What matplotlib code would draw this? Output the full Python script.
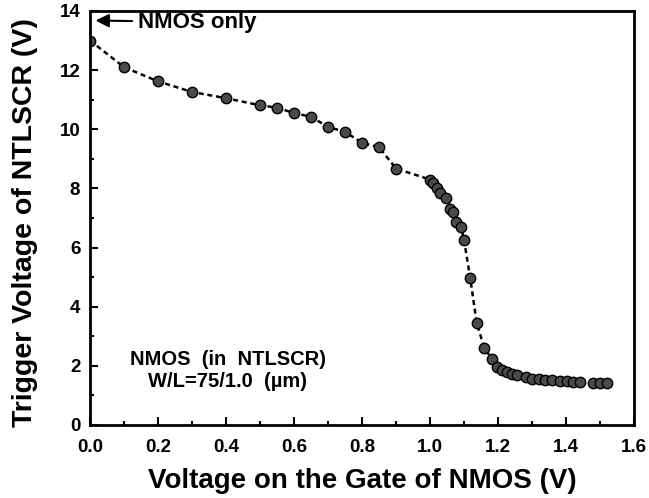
import matplotlib
matplotlib.use('Agg')
import matplotlib.pyplot as plt
from matplotlib.ticker import MultipleLocator

# data
vg = [0.0, 0.1, 0.2, 0.3, 0.4, 0.5, 0.55, 0.6, 0.65, 0.7, 0.75, 0.8, 0.85, 0.9,
      1.0, 1.01, 1.02, 1.03, 1.047, 1.06, 1.067, 1.076, 1.091, 1.10, 1.118, 1.137,
      1.159, 1.183, 1.198, 1.213, 1.225, 1.24, 1.257, 1.281, 1.299, 1.319, 1.338,
      1.358, 1.382, 1.402, 1.42, 1.44, 1.48, 1.50, 1.52]
vtrig = [13.0, 12.1, 11.62, 11.26, 11.05, 10.81, 10.73, 10.55, 10.42, 10.08, 9.91, 9.54, 9.39, 8.67,
         8.30, 8.17, 8.0, 7.83, 7.66, 7.32, 7.21, 6.87, 6.70, 6.25, 4.98, 3.46,
         2.62, 2.22, 1.97, 1.86, 1.80, 1.74, 1.69, 1.61, 1.56, 1.56, 1.52,
         1.52, 1.50, 1.49, 1.46, 1.46, 1.41, 1.41, 1.41]

plt.rcParams['font.family'] = ['Liberation Sans', 'DejaVu Sans']
plt.rcParams['font.weight'] = 'bold'

fig = plt.figure(figsize=(6.49, 4.98), dpi=100)
ax = fig.add_axes([0.1387, 0.1466, 0.8383, 0.8314])

ax.plot(vg, vtrig, linestyle=(0, (2, 1.5)), color='black', linewidth=1.8,
        marker='o', markersize=7.5, markerfacecolor='#4a4a4a', markeredgecolor='black',
        markeredgewidth=1.0)

ax.set_xlim(0, 1.6)
ax.set_ylim(0, 14)
ax.xaxis.set_major_locator(MultipleLocator(0.2))
ax.xaxis.set_minor_locator(MultipleLocator(0.1))
ax.yaxis.set_major_locator(MultipleLocator(2))
ax.yaxis.set_minor_locator(MultipleLocator(1))
ax.xaxis.set_major_formatter(plt.FormatStrFormatter('%.1f'))
ax.tick_params(which='both', direction='in', width=1.5, labelsize=13.5)
ax.tick_params(which='major', length=6)
ax.tick_params(which='minor', length=3)
ax.tick_params(axis='x', pad=10)
ax.tick_params(axis='y', pad=7)
for s in ax.spines.values():
    s.set_linewidth(2)

ax.set_xlabel('Voltage on the Gate of NMOS (V)', fontsize=20, fontweight='bold')
ax.set_ylabel('Trigger Voltage of NTLSCR (V)', fontsize=20.5, fontweight='bold')
ax.xaxis.set_label_coords(0.5, -0.104)
ax.yaxis.set_label_coords(-0.096, 0.488)

ax.annotate('NMOS only', xy=(0.008, 13.68), xytext=(0.14, 13.62),
            fontsize=16, fontweight='bold', va='center', ha='left',
            arrowprops=dict(arrowstyle='-|>', color='black', lw=1.5, mutation_scale=20))

ax.text(0.405, 2.2, 'NMOS  (in  NTLSCR)', fontsize=14.5, fontweight='bold', ha='center', va='center')
ax.text(0.405, 1.48, 'W/L=75/1.0  (\u00b5m)', fontsize=14.5, fontweight='bold', ha='center', va='center')

fig.savefig('out.png', dpi=100)
